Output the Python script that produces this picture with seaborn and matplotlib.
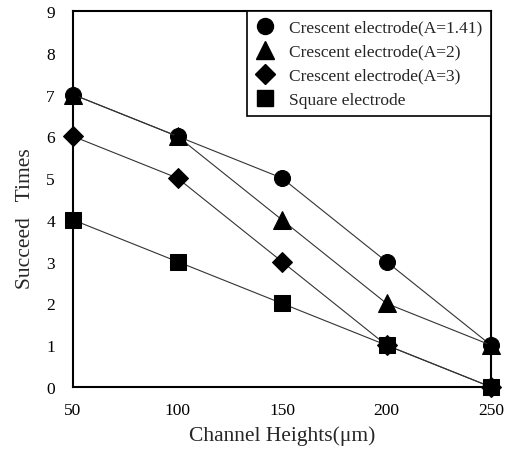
import numpy as np
import pandas as pd
import seaborn as sns
import matplotlib.pyplot as plt
from matplotlib.lines import Line2D

# data
heights = [50, 100, 150, 200, 250]
crescent_141 = [7, 6, 5, 3, 1]
crescent_2 = [7, 6, 4, 2, 1]
crescent_3 = [6, 5, 3, 1, 0]
square = [4, 3, 2, 1, 0]

labels = ["Crescent electrode(A=1.41)", "Crescent electrode(A=2)",
          "Crescent electrode(A=3)", "Square electrode"]
series = [crescent_141, crescent_2, crescent_3, square]
markers = ["o", "^", "D", "s"]
msizes = [11.5, 12.5, 10, 11]

sns.set_theme(style="white")
plt.rcParams["font.family"] = ["Liberation Serif", "DejaVu Serif"]

fig = plt.figure(figsize=(5.05, 4.52), dpi=100)
ax = fig.add_axes([0.1446, 0.1416, 0.9723 - 0.1446, 0.9735 - 0.1416])

handles = []
for lab, vals, mk, ms in zip(labels, series, markers, msizes):
    df = pd.DataFrame({"h": heights, "n": vals})
    sns.lineplot(data=df, x="h", y="n", ax=ax, color="#333333", linewidth=0.8,
                 marker=mk, markersize=ms, markerfacecolor="black",
                 markeredgecolor="black", clip_on=False, zorder=3)
    handles.append(Line2D([], [], linestyle="none", marker=mk, markersize=ms,
                          markerfacecolor="black", markeredgecolor="black"))

ax.set_xlim(50, 250)
ax.set_ylim(0, 9)
ax.set_xticks(heights)
ax.set_yticks(range(0, 10))
ax.tick_params(axis="both", direction="in", length=8, width=1.2, labelsize=12.5,
               colors="black")
ax.tick_params(axis="x", pad=11)
ax.tick_params(axis="y", pad=13)
for s in ax.spines.values():
    s.set_color("black")
    s.set_linewidth(1.5)

ax.set_xlabel("Channel Heights(\u03bcm)", fontsize=15.5, labelpad=5)
ax.set_ylabel("Succeed   Times", fontsize=15.5)
ax.yaxis.set_label_coords(-0.09, 0.45)

leg = ax.legend(handles, labels, loc="upper right", borderaxespad=0,
                fontsize=12.5, frameon=True, fancybox=False, framealpha=1,
                edgecolor="black", handlelength=1.0, handletextpad=0.9,
                labelspacing=0.45, borderpad=0.5)
leg.get_frame().set_linewidth(1.2)

fig.savefig("out.png", dpi=100)
